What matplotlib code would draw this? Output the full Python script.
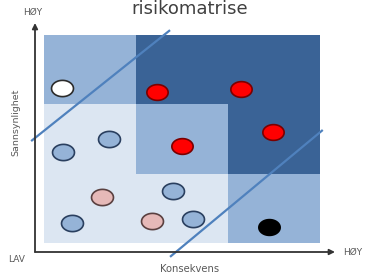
import numpy as np
import matplotlib
matplotlib.use("Agg")
import matplotlib.pyplot as plt
from matplotlib.colors import ListedColormap
from matplotlib.path import Path

# ---- data ----
# risk level per cell (rows: probability low->high, cols: consequence low->high)
levels = [[0, 0, 1],
          [0, 1, 2],
          [1, 2, 2]]
level_colors = ["#dce6f2", "#95b3d7", "#3a6396"]

# risk items: consequence (x), probability (y), kind
item_x = [0.20, 1.23, 2.14, 2.49, 1.50, 0.21, 0.71, 0.63, 1.17, 1.40, 1.62, 0.30, 2.45]
item_y = [2.24, 2.18, 2.22, 1.60, 1.40, 1.31, 1.50, 0.66, 0.32, 0.75, 0.35, 0.29, 0.23]
item_kind = ["white", "red", "red", "red", "red", "blue", "blue", "pink", "pink",
             "blue", "blue", "blue", "black"]

# diagonal boundary lines (start/end in matrix units)
line1_x = [-0.14, 1.37]
line1_y = [1.47, 3.07]
line2_x = [1.37, 3.03]
line2_y = [-0.20, 1.63]

title = "risikomatrise"
x_label = "Konsekvens"
y_label = "Sannsynlighet"
high_label = "HØY"
low_label = "LAV"

kind_style = {
    "white": ("#ffffff", "#2b2b2b", 250),
    "red": ("#ff0000", "#7a0000", 235),
    "blue": ("#95b3d7", "#2a3f5f", 250),
    "pink": ("#e6b9b8", "#5a4040", 250),
    "black": ("#000000", "#000000", 235),
}

# ---- figure ----
W, H = 370, 276
fig = plt.figure(figsize=(W / 100, H / 100), dpi=100)
fig.patch.set_facecolor("white")
L, R, T, B = 44, 320, 35, 243
ax = fig.add_axes([L / W, 1 - B / H, (R - L) / W, (B - T) / H])
ax.set_xlim(0, 3)
ax.set_ylim(0, 3)
ax.axis("off")

cmap = ListedColormap(level_colors)
ax.pcolormesh(np.arange(4), np.arange(4), np.array(levels), cmap=cmap,
              vmin=-0.5, vmax=2.5, shading="flat")

# ellipse marker
t = np.linspace(0, 2 * np.pi, 60)
verts = np.column_stack([np.cos(t), 0.74 * np.sin(t)])
ell = Path(verts, closed=True)

for kind in kind_style:
    fc, ec, s = kind_style[kind]
    xs = [x for x, k in zip(item_x, item_kind) if k == kind]
    ys = [y for y, k in zip(item_y, item_kind) if k == kind]
    ax.scatter(xs, ys, s=s, marker=ell, facecolor=fc, edgecolor=ec,
               linewidth=1.2, zorder=3, clip_on=False)

for lx, ly in ((line1_x, line1_y), (line2_x, line2_y)):
    ax.plot(lx, ly, color="#4f81bd", lw=1.6, clip_on=False, zorder=4,
            solid_capstyle="butt")

# axis arrows in figure pixel coordinates
def fp(x, y):
    return (x / W, 1 - y / H)

arrowprops = dict(arrowstyle="-|>", color="#333333", lw=1.3,
                  mutation_scale=8, shrinkA=0, shrinkB=0)
fig.add_artist(matplotlib.patches.FancyArrowPatch(fp(35, 252), fp(35, 23),
               transform=fig.transFigure, **arrowprops))
fig.add_artist(matplotlib.patches.FancyArrowPatch(fp(35, 252), fp(335, 252),
               transform=fig.transFigure, **arrowprops))

txt = dict(color="#595959", family="DejaVu Sans")
fig.text(*fp(190, 14.5), title, ha="center", va="baseline", fontsize=13,
         color="#404040", family="DejaVu Sans")
fig.text(*fp(33, 12), high_label, ha="center", va="center", fontsize=6.5, **txt)
fig.text(*fp(353, 252), high_label, ha="center", va="center", fontsize=6.5, **txt)
fig.text(*fp(17, 259), low_label, ha="center", va="center", fontsize=6.5, **txt)
fig.text(*fp(190, 269), x_label, ha="center", va="center", fontsize=7.2, **txt)
fig.text(*fp(16, 122), y_label, ha="center", va="center", fontsize=6.8,
         rotation=90, **txt)

fig.savefig("out.png", dpi=100)
